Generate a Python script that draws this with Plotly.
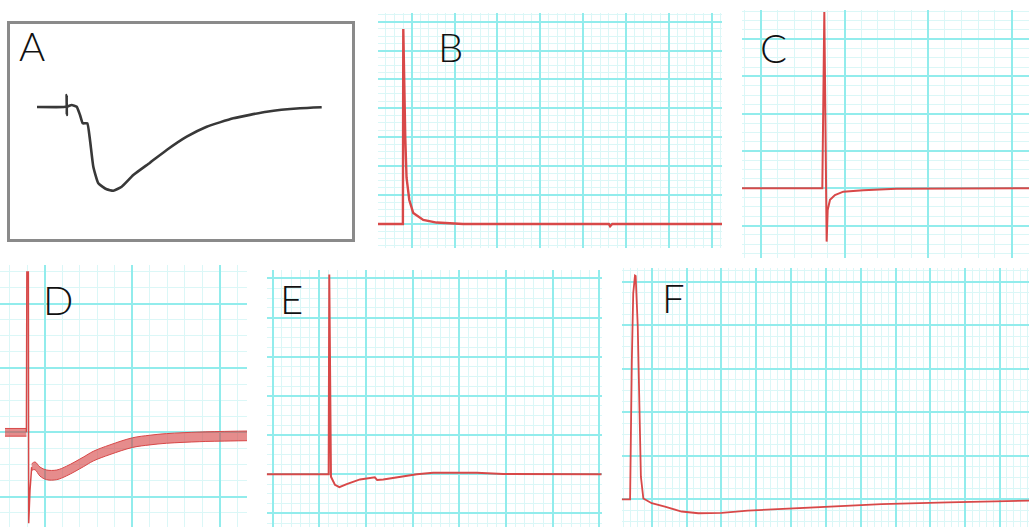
import plotly.graph_objects as go

W, H = 1029, 527

# ---------------- data (values in grid divisions / arbitrary units) ----------------
# Panel A (arbitrary units)
a_t = [0.789, 1.579, 1.650, 1.655, 1.662, 1.668, 1.804, 1.950, 2.047, 2.126, 2.260, 2.339,
       2.436, 2.582, 2.827, 3.020, 3.266, 3.605, 4.094, 4.582, 5.167, 5.751, 6.529, 7.506,
       8.480, 9.114]
a_v = [0.0, 0.0, 0.05, 1.2, -0.8, 0.0, 0.2, 0.03, -0.8, -1.63, -1.63, -3.3,
       -5.97, -7.63, -8.23, -8.37, -7.97, -6.8, -5.57, -4.3, -2.97, -1.97, -1.13, -0.47,
       -0.13, -0.03]

# Panel B
b_t = [-0.786, -0.205, -0.196, -0.180, -0.150, -0.120, -0.056, 0.037, 0.270, 0.580,
       1.200, 4.600, 4.630, 4.680, 7.240]
b_v = [0.0, 0.0, 6.75, 4.88, 3.0, 1.6, 0.83, 0.38, 0.14, 0.05,
       0.0, 0.0, -0.08, 0.0, 0.0]

# Panel C
c_t = [-0.227, 0.734, 0.758, 0.786, 0.798, 0.826, 0.885, 0.985, 1.224, 1.620, 3.207]
c_v = [0.0, 0.0, 4.73, -1.43, -0.58, -0.31, -0.18, -0.09, -0.05, -0.01, 0.0]

# Panel D : spike, and noisy band (upper / lower envelopes)
d_spike_t = [-0.212, -0.207, -0.190, -0.186, -0.171, -0.152]
d_spike_v = [0.0, 2.49, 2.49, -1.41, -0.90, -0.54]
d_pre_t = [-0.457, -0.212]
d_pre_hi = [0.06, 0.06]
d_pre_lo = [-0.06, -0.06]
d_t = [-0.152, -0.114, -0.057, 0.019, 0.134, 0.248, 0.438, 0.552, 0.743, 1.000,
       1.200, 1.390, 1.770, 2.000, 2.309]
d_mid = [-0.54, -0.52, -0.61, -0.66, -0.66, -0.60, -0.46, -0.37, -0.27, -0.16,
         -0.12, -0.095, -0.07, -0.062, -0.055]
d_half = [0.05, 0.06, 0.07, 0.075, 0.075, 0.075, 0.075, 0.075, 0.075, 0.075,
          0.075, 0.075, 0.075, 0.075, 0.075]

# Panel E
e_t = [-1.127, 0.201, 0.214, 0.230, 0.250, 0.336, 0.430, 0.587, 0.872, 1.190, 1.240,
       1.370, 1.730, 2.090, 2.440, 3.370, 3.940, 6.051]
e_v = [0.0, 0.0, 5.10, 3.0, -0.06, -0.27, -0.33, -0.25, -0.13, -0.077, -0.146,
       -0.13, -0.06, 0.0, 0.04, 0.04, 0.01, 0.0]

# Panel F
f_t = [-0.861, -0.620, -0.570, -0.530, -0.480, -0.460, -0.400, -0.360, -0.310, -0.240,
       0.000, 0.380, 0.860, 1.340, 2.010, 2.760, 4.690, 6.600, 8.510, 10.833]
f_v = [0.0, 0.0, 3.2, 4.73, 5.14, 5.13, 3.97, 2.05, 0.52, 0.02,
       -0.09, -0.17, -0.28, -0.32, -0.31, -0.26, -0.18, -0.11, -0.07, -0.03]

labels = ["A", "B", "C", "D", "E", "F"]

# ---------------- styling ----------------
RED = "#d84848"
MAJOR = "#92ecec"
MINOR = "#dbf7f7"

fig = go.Figure()

def px_dom_x(a, b):
    return [a / W, b / W]

def px_dom_y(top, bottom):
    return [1 - bottom / H, 1 - top / H]

panels = {
    # name: (xdomain px, ydomain px, xrange, yrange, grid?)
    1: ((10, 352), (24, 239), [0, 10], [-13.2, 8.3], False),
    2: ((378, 722), (13, 248), [-0.786, 7.24], [-0.83, 7.30], True),
    3: ((742, 1029), (10, 258), [-0.227, 3.207], [-1.870, 4.783], True),
    4: ((0, 247), (265, 527), [-0.514, 2.309], [-1.470, 2.598], True),
    5: ((266.7, 601.7), (270, 527), [-1.127, 6.051], [-1.345, 5.216], True),
    6: ((621.7, 1029), (268, 527), [-0.861, 10.833], [-0.636, 5.315], True),
}

layout_axes = {}
for i, (xd, yd, xr, yr, grid) in panels.items():
    xn = "xaxis" if i == 1 else f"xaxis{i}"
    yn = "yaxis" if i == 1 else f"yaxis{i}"
    anchor_x = "y" if i == 1 else f"y{i}"
    anchor_y = "x" if i == 1 else f"x{i}"
    if grid:
        xa = dict(domain=px_dom_x(*xd), range=xr, anchor=anchor_x, tick0=0, dtick=1,
                  showgrid=True, gridcolor=MAJOR, gridwidth=1.5,
                  minor=dict(tick0=0, dtick=0.2, showgrid=True, gridcolor=MINOR, gridwidth=1),
                  showticklabels=False, ticks="", zeroline=False, showline=False, fixedrange=True)
        ya = dict(domain=px_dom_y(*yd), range=yr, anchor=anchor_y, tick0=0, dtick=1,
                  showgrid=True, gridcolor=MAJOR, gridwidth=1.5,
                  minor=dict(tick0=0, dtick=0.25, showgrid=True, gridcolor=MINOR, gridwidth=1),
                  showticklabels=False, ticks="", zeroline=False, showline=False, fixedrange=True)
    else:
        xa = dict(domain=px_dom_x(*xd), range=xr, anchor=anchor_x, showgrid=False,
                  showticklabels=False, ticks="", zeroline=False, showline=True, mirror=True,
                  linecolor="#8a8a8a", linewidth=3, fixedrange=True)
        ya = dict(domain=px_dom_y(*yd), range=yr, anchor=anchor_y, showgrid=False,
                  showticklabels=False, ticks="", zeroline=False, showline=True, mirror=True,
                  linecolor="#8a8a8a", linewidth=3, fixedrange=True)
    layout_axes[xn] = xa
    layout_axes[yn] = ya

# A
fig.add_trace(go.Scatter(x=a_t, y=a_v, mode="lines", xaxis="x", yaxis="y",
                         line=dict(color="#383838", width=2.6, shape="spline", smoothing=0.4)))
# B
fig.add_trace(go.Scatter(x=b_t, y=b_v, mode="lines", xaxis="x2", yaxis="y2",
                         line=dict(color=RED, width=2.4)))
# C
fig.add_trace(go.Scatter(x=c_t, y=c_v, mode="lines", xaxis="x3", yaxis="y3",
                         line=dict(color=RED, width=2)))
# D band pre-spike
fig.add_trace(go.Scatter(x=d_pre_t, y=d_pre_lo, mode="lines", xaxis="x4", yaxis="y4",
                         line=dict(color=RED, width=1)))
fig.add_trace(go.Scatter(x=d_pre_t, y=d_pre_hi, mode="lines", xaxis="x4", yaxis="y4",
                         line=dict(color=RED, width=1), fill="tonexty",
                         fillcolor="rgba(214,64,64,0.6)"))
# D band post-spike
d_lo = [m - h for m, h in zip(d_mid, d_half)]
d_hi = [m + h for m, h in zip(d_mid, d_half)]
fig.add_trace(go.Scatter(x=d_t, y=d_lo, mode="lines", xaxis="x4", yaxis="y4",
                         line=dict(color=RED, width=1, shape="spline")))
fig.add_trace(go.Scatter(x=d_t, y=d_hi, mode="lines", xaxis="x4", yaxis="y4",
                         line=dict(color=RED, width=1, shape="spline"), fill="tonexty",
                         fillcolor="rgba(214,64,64,0.6)"))
fig.add_trace(go.Scatter(x=d_spike_t, y=d_spike_v, mode="lines", xaxis="x4", yaxis="y4",
                         line=dict(color=RED, width=1.5)))
# E
fig.add_trace(go.Scatter(x=e_t, y=e_v, mode="lines", xaxis="x5", yaxis="y5",
                         line=dict(color=RED, width=2)))
# F
fig.add_trace(go.Scatter(x=f_t, y=f_v, mode="lines", xaxis="x6", yaxis="y6",
                         line=dict(color=RED, width=1.8)))

# panel letters (left edge px, cap-centre px)
label_pos = [(17, 46), (436, 47), (758, 48), (41, 300), (278, 299), (660, 298)]
annotations = []
for lab, (lx, ly) in zip(labels, label_pos):
    annotations.append(dict(text=lab, x=lx / W, y=1 - ly / H, xref="paper", yref="paper",
                            xanchor="left", yanchor="middle", showarrow=False,
                            font=dict(family="Lato, Open Sans, sans-serif", size=40,
                                      color="#111111", weight=300)))

fig.update_layout(width=W, height=H, margin=dict(l=0, r=0, t=0, b=0),
                  paper_bgcolor="white", plot_bgcolor="white", showlegend=False,
                  annotations=annotations, **layout_axes)

fig.write_html("out.html", config={"displayModeBar": False})
